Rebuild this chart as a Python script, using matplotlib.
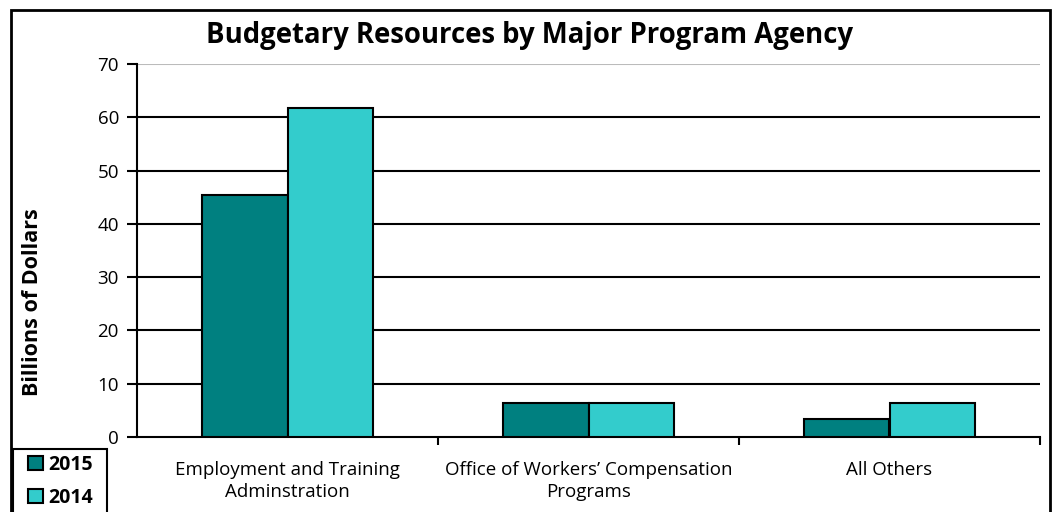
import numpy as np
import matplotlib.pyplot as plt
from matplotlib.patches import Rectangle

categories = ['Employment and Training\nAdminstration', 'Office of Workers\u2019 Compensation\nPrograms', 'All Others']
vals_2015 = [45.4, 6.4, 3.4]
vals_2014 = [61.7, 6.4, 6.4]
years = ['2015', '2014']
colors = ['#008080', '#33CCCC']

plt.rcParams['font.family'] = ['Open Sans', 'DejaVu Sans']

fig = plt.figure(figsize=(10.53, 5.12), dpi=100)
ax = fig.add_axes([137/1053, 1 - 437/512, (1040-137)/1053, (437-64)/512])

x = np.arange(len(categories))
w = 0.285
b1 = ax.bar(x - w/2, vals_2015, w, color=colors[0], edgecolor='black', linewidth=1.5, zorder=3)
b2 = ax.bar(x + w/2, vals_2014, w, color=colors[1], edgecolor='black', linewidth=1.5, zorder=3)

ax.set_xlim(-0.5, 2.5)
ax.set_ylim(0, 70)
ax.set_yticks(range(0, 71, 10))
for yv in range(10, 70, 10):
    ax.axhline(yv, color='black', linewidth=1.5, zorder=1)
ax.axhline(70, color='#BBBBBB', linewidth=1.5, zorder=1)

for s in ['top', 'right']:
    ax.spines[s].set_visible(False)
ax.spines['left'].set_linewidth(1.5)
ax.spines['bottom'].set_linewidth(1.5)

ax.set_xticks(x)
ax.set_xticklabels(categories, fontsize=13.5, linespacing=1.3)
ax.tick_params(axis='x', length=0, pad=17)
ax.set_xticks([0.5, 1.5, 2.5], minor=True)
ax.tick_params(axis='x', which='minor', length=6, width=1.5, direction='out')
ax.tick_params(axis='y', length=7, width=1.5, labelsize=13.5, direction='out', pad=6)

# y label sits lower than axes centre in the original
fig.text(33/1053, 1 - 302/512, 'Billions of Dollars', rotation=90,
         ha='center', va='center', fontsize=15.5, fontweight='bold')
fig.text(530/1053, 1 - 35/512, 'Budgetary Resources by Major Program Agency',
         ha='center', va='center', fontsize=19.8, fontweight='bold')

# outer chart border
fig.patches.append(Rectangle((11/1053, -0.1), 1039/1053, 1.1 - 10/512, transform=fig.transFigure,
                             fill=False, edgecolor='black', linewidth=2))

# legend box runs off the bottom edge, so draw the frame by hand
fig.patches.append(Rectangle((13/1053, -0.1), 94/1053, 0.1 + 1 - 449/512, transform=fig.transFigure,
                             fill=False, edgecolor='black', linewidth=1.5))
leg = fig.legend([b1, b2], years, loc='upper left', bbox_to_anchor=(28/1053, 1 - 455/512),
                 frameon=False, prop={'weight': 'bold', 'size': 14},
                 handlelength=0.75, handleheight=0.75, handletextpad=0.3,
                 labelspacing=0.65, borderpad=0, borderaxespad=0)

fig.savefig('out.png', dpi=100)
